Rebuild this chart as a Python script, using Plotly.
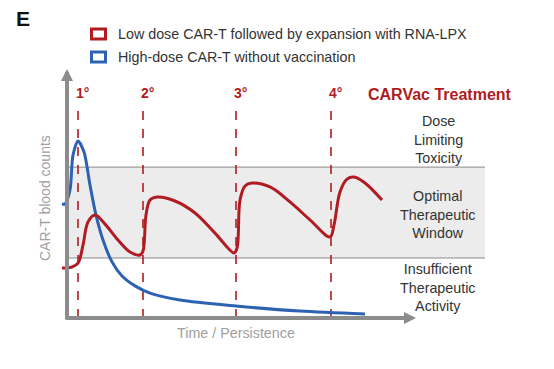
import plotly.graph_objects as go

# ---- data (schematic units: time on x, counts on y) ----
dose_times = [1.1, 7.6, 16.9, 26.4]
dose_labels = ["1°", "2°", "3°", "4°"]

red_t = [-0.5, 0.0, 0.5, 1.1, 1.6, 2.1, 2.8, 3.8, 5.1, 6.3, 7.3, 7.6, 7.9, 8.3, 9.0,
         10.8, 12.8, 14.8, 16.7, 17.0, 17.3, 17.8, 18.5, 20.3, 22.3, 24.3, 26.3,
         26.7, 27.3, 28.0, 28.7, 29.8, 31.5]
red_c = [16.7, 16.7, 17.0, 18.3, 24.3, 32.0, 34.3, 31.3, 26.0, 22.0, 21.0, 22.3, 34.3, 39.3, 40.3,
         39.0, 35.0, 28.3, 21.7, 23.3, 39.3, 44.0, 45.0, 43.7, 38.7, 32.7, 27.0,
         31.0, 42.0, 46.3, 47.0, 45.0, 39.3]

blue_t = [-0.5, -0.2, 0.3, 0.6, 1.1, 1.7, 2.3, 2.9, 3.6, 4.5, 5.5, 6.8, 8.3, 11.3, 16.9, 23.3, 29.8]
blue_c = [38.0, 38.0, 42.7, 54.3, 59.0, 55.3, 44.3, 34.3, 26.0, 18.7, 14.0, 10.7, 8.3, 6.0, 4.0, 2.3, 1.3]

band_low, band_high = 20.0, 50.3
band_end = 41.8

legend_names = ["Low dose CAR-T followed by expansion with RNA-LPX",
                "High-dose CAR-T without vaccination"]
zone_labels = ["Dose<br>Limiting<br>Toxicity",
               "Optimal<br>Therapeutic<br>Window",
               "Insufficient<br>Therapeutic<br>Activity"]

RED = "#b01c22"
BLUE = "#2d62b3"
GRAY = "#8c8c8c"
FONT = "Liberation Sans, Arial"

W, H = 554, 369
X0PX, XSCALE = 67, 10.0
Y0PX, YSCALE = 318, 3.0


def px_x(p):
    return (p - X0PX) / XSCALE


def px_y(p):
    return (Y0PX - p) / YSCALE


fig = go.Figure()

# band
fig.add_shape(type="rect", x0=0, x1=band_end, y0=band_low, y1=band_high,
              fillcolor="#ececec", line=dict(width=0), layer="below")
for yv in (band_low, band_high):
    fig.add_shape(type="line", x0=0, x1=band_end, y0=yv, y1=yv,
                  line=dict(color="#8a8a8a", width=1), layer="below")

# dashed dose lines
for t in dose_times:
    fig.add_shape(type="line", x0=t, x1=t, y0=0, y1=px_y(103),
                  line=dict(color=RED, width=1.6, dash="dash"), layer="below")

fig.add_trace(go.Scatter(x=blue_t, y=blue_c, mode="lines", name=legend_names[1],
                         line=dict(color=BLUE, width=3, shape="spline", smoothing=0.8),
                         showlegend=False, hoverinfo="skip"))
fig.add_trace(go.Scatter(x=red_t, y=red_c, mode="lines", name=legend_names[0],
                         line=dict(color=RED, width=3, shape="spline", smoothing=1.0),
                         showlegend=False, hoverinfo="skip"))

ann = []
# axes arrows
ann.append(dict(x=0, y=px_y(69), ax=0, ay=px_y(321), xref="x", yref="y", axref="x", ayref="y",
                text="", showarrow=True, arrowhead=2, arrowsize=0.6, arrowwidth=4, arrowcolor=GRAY))
ann.append(dict(x=px_x(416), y=0, ax=px_x(65), ay=0, xref="x", yref="y", axref="x", ayref="y",
                text="", showarrow=True, arrowhead=2, arrowsize=0.6, arrowwidth=4, arrowcolor=GRAY))

# dose labels
for t, lab in zip(dose_times, dose_labels):
    ann.append(dict(x=t + 0.4, y=px_y(93), xref="x", yref="y", text="<b>%s</b>" % lab,
                    xanchor="center", yanchor="middle",
                    showarrow=False, font=dict(size=14, color=RED, family=FONT)))
ann.append(dict(x=px_x(440), y=px_y(94), xref="x", yref="y", text="<b>CARVac Treatment</b>",
                xanchor="center", yanchor="middle",
                showarrow=False, font=dict(size=16, color=RED, family=FONT)))

# zone labels
for lab, yc in zip(zone_labels, [139, 214, 287]):
    ann.append(dict(x=px_x(438), y=px_y(yc), xref="x", yref="y", text=lab, showarrow=False,
                    xanchor="center", yanchor="middle",
                    font=dict(size=14.3, color="#333333", family=FONT)))

# axis titles
ann.append(dict(x=px_x(45), y=px_y(198), xref="x", yref="y", text="CAR-T blood counts",
                textangle=-90, showarrow=False, xanchor="center", yanchor="middle",
                font=dict(size=14, color="#a0a0a0", family=FONT)))
ann.append(dict(x=px_x(236), y=px_y(333), xref="x", yref="y", text="Time / Persistence",
                showarrow=False, xanchor="center", yanchor="middle",
                font=dict(size=14.3, color="#a0a0a0", family=FONT)))

# panel letter
ann.append(dict(x=14 / W, y=1 - 19 / H, xref="paper", yref="paper", text="<b>E</b>",
                xanchor="left", yanchor="middle", showarrow=False,
                font=dict(size=21, color="#111", family=FONT)))

# legend
for i, (name, col) in enumerate(zip(legend_names, [RED, BLUE])):
    yc = 34 + 23 * i
    fig.add_shape(type="rect", xref="paper", yref="paper",
                  x0=91.5 / W, x1=105.5 / W, y0=1 - (yc + 5) / H, y1=1 - (yc - 5) / H,
                  line=dict(color=col, width=3), fillcolor="white")
    ann.append(dict(x=116 / W, y=1 - (yc - 0.5) / H, xref="paper", yref="paper", text=name,
                    xanchor="left", yanchor="middle", showarrow=False,
                    font=dict(size=14.3, color="#333", family=FONT)))

fig.update_layout(
    width=W, height=H, margin=dict(l=0, r=0, t=0, b=0),
    paper_bgcolor="white", plot_bgcolor="white",
    xaxis=dict(range=[px_x(0), px_x(W)], visible=False, fixedrange=True),
    yaxis=dict(range=[px_y(H), px_y(0)], visible=False, fixedrange=True),
    annotations=ann, showlegend=False,
)

fig.write_html("out.html", config={"displayModeBar": False},
               post_script="document.body.style.margin='0';document.body.style.overflow='hidden';")
